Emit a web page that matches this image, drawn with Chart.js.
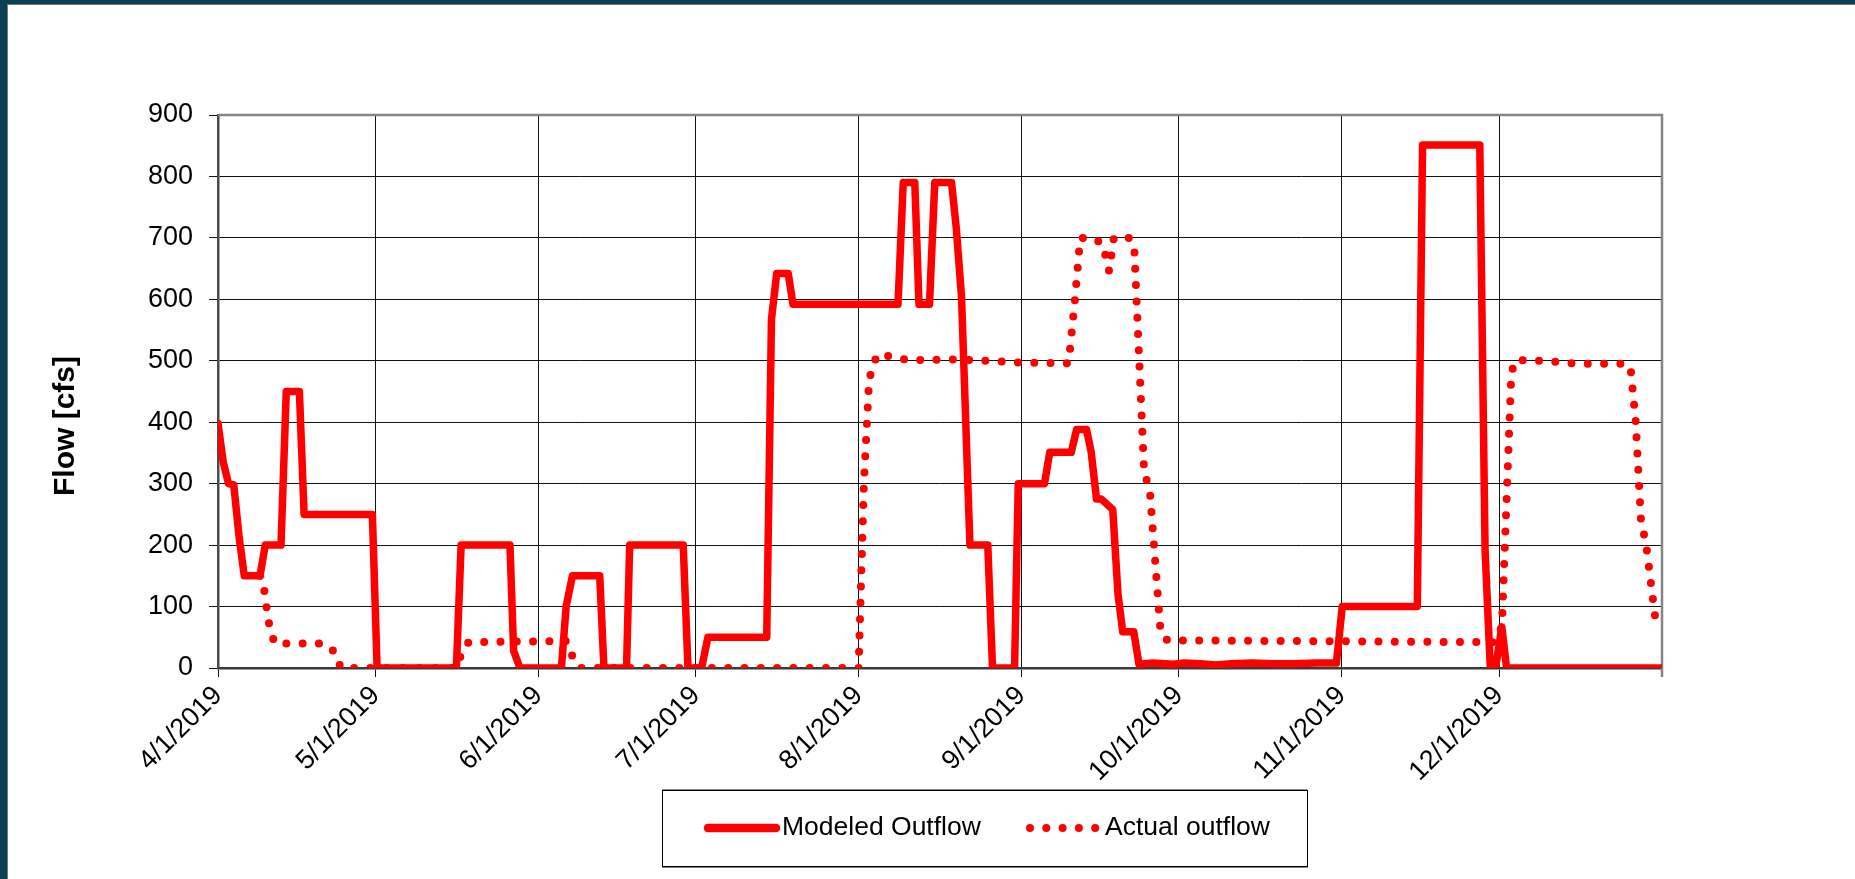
<!DOCTYPE html>
<html>
<head>
<meta charset="utf-8">
<script src="https://cdn.jsdelivr.net/npm/chart.js@4.4.1/dist/chart.umd.min.js"></script>
<style>
html,body{margin:0;padding:0;background:#fff;}
body{width:1855px;height:879px;overflow:hidden;position:relative;}
#frame{position:absolute;left:0;top:0;width:1855px;height:879px;background:#0b3f55;}
#inner{position:absolute;left:7px;top:4px;right:0;bottom:0;background:#fff;border-top:1px solid #7a7a7a;border-left:1px solid #7a7a7a;}
#c{position:absolute;left:0;top:0;}
</style>
</head>
<body>
<div id="frame"><div id="inner"></div></div>
<canvas id="c" width="1855" height="879"></canvas>
<script>
// ---- Data (x = days since 4/1/2019) ----
const monthTickDays   = [0, 30, 61, 91, 122, 153, 183, 214, 244, 275];
const monthTickLabels = ['4/1/2019','5/1/2019','6/1/2019','7/1/2019','8/1/2019','9/1/2019','10/1/2019','11/1/2019','12/1/2019',''];
const flowTicks = [0,100,200,300,400,500,600,700,800,900];
const seriesNames = ['Modeled Outflow', 'Actual outflow'];
const yAxisTitle = 'Flow [cfs]';

const modeledDays = [0,1,2,3,4,5,8,9,12,13,15.5,16.4,29.4,30.3,45.4,46.3,55.6,56.3,57.5,65.4,66.3,67.5,72.7,73.5,77.8,78.4,88.6,89.5,92.1,93.3,104.5,105.4,106.4,108.6,109.5,129.5,130.5,132.7,133.5,135.5,136.5,139.7,140.6,141.6,143.2,146.6,147.5,151.7,152.4,157.4,158.4,162.5,163.5,165.4,166.3,167.3,168.2,170.4,171.4,172.3,174.4,175.4,178,182,184,187,190,193,197,201,205,209,213,214.1,228.4,229.4,240.3,241.3,242.3,243.3,244.5,245.4,275];
const modeledFlow = [398,335,300,298,215,150,150,200,200,450,450,250,250,0,0,200,200,28,0,0,100,150,150,0,0,200,200,0,0,50,50,567,642,642,592,592,790,790,592,592,790,790,716,604,200,200,0,0,300,300,351,351,388,388,351,275,275,258,120,59,59,6,8,6,8,7,5,7,8,7,7,8,8,100,100,851,851,194,0,0,67,0,0];

const actualDays = [8,8.5,9,9.4,9.9,10.8,20.1,22.1,23.4,45.4,46.3,47.7,66.3,67.3,68.9,122,123,124,125.5,128.6,131.4,140.4,146.5,152.7,162,163.2,164.2,166.6,168.5,169.7,170.6,173.5,174.5,176.4,177.4,179.5,180.8,243,244.5,246.3,247.1,253,259,268,269,270,271,272,273,274];
const actualFlow = [150,145,115,89,63,40,40,27,0,0,22,42,44,22,0,0,300,470,510,507,501,502,500,497,496,600,700,700,690,646,700,700,684,314,296,59,45,42,67,480,501,500,495,495,490,400,240,200,130,62];

// ---- Plugins ----
const FONT = "'Liberation Sans', Arial, sans-serif";

const framePlugin = {
  id: 'frameBorder',
  beforeDatasetsDraw(chart) {
    const a = chart.chartArea, c = chart.ctx;
    c.save();
    c.strokeStyle = '#858585';
    c.lineWidth = 2.5;
    c.beginPath();
    c.moveTo(a.left, a.top);
    c.lineTo(a.right, a.top);
    c.lineTo(a.right, a.bottom + 9);
    c.stroke();
    c.restore();
  }
};

const titlePlugin = {
  id: 'yTitle',
  afterDraw(chart) {
    const c = chart.ctx;
    c.save();
    c.translate(66, 426);
    c.rotate(-Math.PI / 2);
    c.font = "bold 30px " + FONT;
    c.fillStyle = '#000';
    c.textAlign = 'center';
    c.textBaseline = 'middle';
    c.fillText(yAxisTitle, 0, 0);
    c.restore();
  }
};

const legendPlugin = {
  id: 'boxLegend',
  afterDraw(chart) {
    const c = chart.ctx;
    const bx = 662, by = 790, bw = 645, bh = 76;
    c.save();
    c.fillStyle = '#fff';
    c.fillRect(bx, by, bw, bh);
    c.strokeStyle = '#888';
    c.lineWidth = 2;
    c.beginPath();
    c.moveTo(bx, by + bh + 1); c.lineTo(bx + bw + 1, by + bh + 1);
    c.moveTo(bx, by); c.lineTo(bx + bw, by);
    c.stroke();
    c.strokeStyle = '#000';
    c.lineWidth = 1;
    c.strokeRect(bx + 0.5, by + 0.5, bw, bh);
    const cy = by + bh / 2;
    const ds0 = chart.data.datasets[0], ds1 = chart.data.datasets[1];
    // solid sample
    c.strokeStyle = ds0.borderColor;
    c.lineWidth = 8.5;
    c.lineCap = 'round';
    c.beginPath();
    c.moveTo(708, cy); c.lineTo(776, cy);
    c.stroke();
    // dotted sample
    c.fillStyle = ds1.borderColor;
    for (let i = 0; i < 5; i++) {
      c.beginPath();
      c.arc(1030 + i * 16.3, cy, 4, 0, Math.PI * 2);
      c.fill();
    }
    c.fillStyle = '#000';
    c.font = "26.5px " + FONT;
    c.textAlign = 'left';
    c.textBaseline = 'middle';
    c.fillText(ds0.label, 782, cy);
    c.fillText(ds1.label, 1105, cy);
    c.restore();
  }
};

const toPoints = (xs, ys) => xs.map((d, i) => ({ x: d, y: ys[i] }));

new Chart(document.getElementById('c'), {
  type: 'line',
  data: {
    datasets: [
      {
        label: seriesNames[0],
        data: toPoints(modeledDays, modeledFlow),
        borderColor: '#ff0000',
        borderWidth: 7.5,
        borderJoinStyle: 'round',
        borderCapStyle: 'round',
        pointRadius: 0,
        tension: 0,
        fill: false
      },
      {
        label: seriesNames[1],
        data: toPoints(actualDays, actualFlow),
        borderColor: '#ff0000',
        borderWidth: 8,
        borderDash: [0, 16.3],
        borderCapStyle: 'round',
        borderJoinStyle: 'round',
        pointRadius: 0,
        tension: 0,
        fill: false
      }
    ]
  },
  options: {
    responsive: false,
    animation: false,
    devicePixelRatio: 1,
    layout: { padding: { left: 0, top: 115, right: 193, bottom: 0 } },
    plugins: { legend: { display: false }, tooltip: { enabled: false } },
    scales: {
      x: {
        type: 'linear',
        min: 0,
        max: 275,
        afterBuildTicks: (s) => { s.ticks = monthTickDays.map(v => ({ value: v })); },
        afterFit: (s) => { s.height = 879 - 668; },
        ticks: {
          autoSkip: false,
          minRotation: 45,
          maxRotation: 45,
          padding: 3,
          color: '#000',
          font: { family: FONT, size: 27 },
          callback: (v, i) => monthTickLabels[i]
        },
        grid: { color: '#111', lineWidth: 1, tickLength: 9 },
        border: { color: '#3a3a3a', width: 2.5 }
      },
      y: {
        min: 0,
        max: 900,
        afterBuildTicks: (s) => { s.ticks = flowTicks.map(v => ({ value: v })); },
        afterFit: (s) => { s.width = 218; },
        ticks: {
          padding: 16,
          color: '#000',
          font: { family: FONT, size: 27 }
        },
        grid: { color: '#111', lineWidth: 1, tickLength: 9 },
        border: { color: '#4a4a4a', width: 2.5 }
      }
    }
  },
  plugins: [framePlugin, titlePlugin, legendPlugin]
});
</script>
</body>
</html>
